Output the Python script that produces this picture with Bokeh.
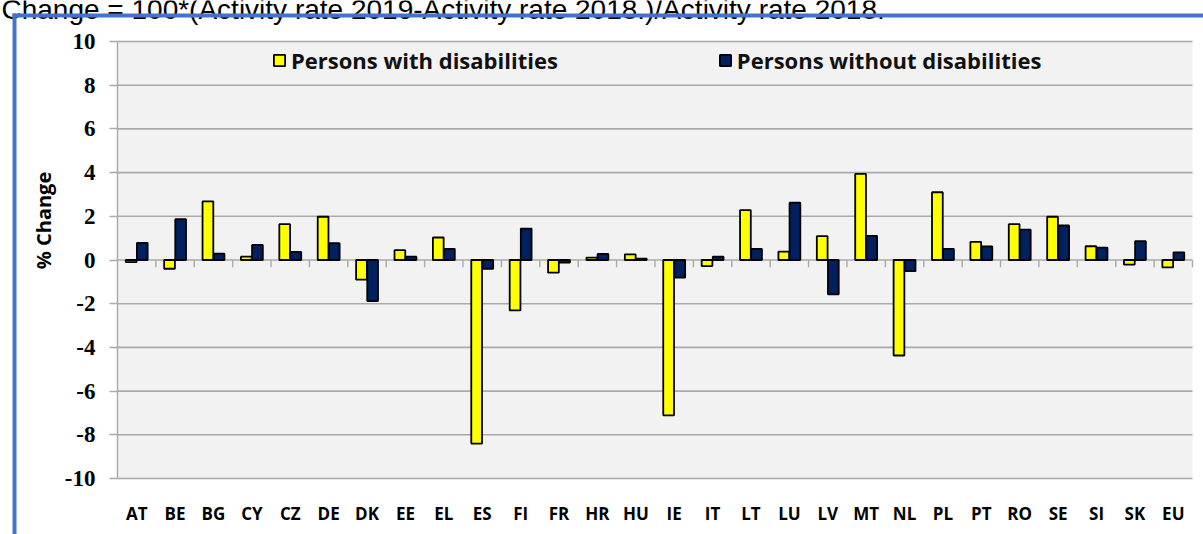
from math import pi
from bokeh.plotting import figure
from bokeh.models import (Range1d, FixedTicker, Legend, Label, BoxAnnotation,
                          ColumnDataSource)
from bokeh.transform import dodge
from bokeh.embed import file_html
from bokeh.resources import INLINE

# ---------------- data ----------------
countries = ["AT", "BE", "BG", "CY", "CZ", "DE", "DK", "EE", "EL", "ES", "FI", "FR", "HR", "HU",
             "IE", "IT", "LT", "LU", "LV", "MT", "NL", "PL", "PT", "RO", "SE", "SI", "SK", "EU"]
with_disabilities = [-0.10, -0.40, 2.68, 0.15, 1.64, 1.98, -0.90, 0.45, 1.03, -8.40, -2.31, -0.58, 0.11, 0.26,
                     -7.11, -0.28, 2.28, 0.38, 1.09, 3.94, -4.37, 3.10, 0.83, 1.64, 1.98, 0.63, -0.21, -0.34]
without_disabilities = [0.78, 1.87, 0.29, 0.69, 0.37, 0.77, -1.88, 0.15, 0.51, -0.40, 1.44, -0.12, 0.28, 0.06,
                        -0.81, 0.15, 0.51, 2.62, -1.57, 1.10, -0.51, 0.51, 0.62, 1.39, 1.58, 0.57, 0.86, 0.35]
y_ticks = [-10, -8, -6, -4, -2, 0, 2, 4, 6, 8, 10]
series_names = ["Persons with disabilities", "Persons without disabilities"]
title_text = "Change = 100*(Activity rate 2019-Activity rate 2018.)/Activity rate 2018."
y_label = "% Change"

n = len(countries)
centers = [i + 0.5 for i in range(n)]
src = ColumnDataSource(dict(x=centers, a=with_disabilities, b=without_disabilities))

# ---------------- layout (canvas pixels) ----------------
W, H = 1203, 534
PL, PR, PT, PB = 117, 1192, 41, 478      # plot area inside the canvas
CW = (PR - PL) / n                       # px per category
PU = (PB - PT) / (y_ticks[-1] - y_ticks[0])  # px per unit


def X(px):
    return (px - PL) / CW


def Y(py):
    return y_ticks[-1] - (py - PT) / PU


p = figure(width=W, height=H, x_range=Range1d(X(0), X(W)), y_range=Range1d(Y(H), Y(0)),
           output_backend="svg", toolbar_location=None,
           min_border_left=0, min_border_right=0, min_border_top=0, min_border_bottom=0)
p.background_fill_color = "white"
p.border_fill_color = "white"
p.outline_line_color = None
p.xgrid.visible = False
p.ygrid.visible = False

# plot-area background
p.add_layout(BoxAnnotation(left=0, right=n, bottom=y_ticks[0], top=y_ticks[-1],
                           fill_color="#F2F2F2", fill_alpha=1, line_color=None, level="underlay"))

# horizontal gridlines
p.segment(x0=[0] * len(y_ticks), x1=[n] * len(y_ticks), y0=y_ticks, y1=y_ticks,
          line_color="#A9A9A9", line_width=1.6)

# boundary ticks on the zero line
bounds = list(range(1, n + 1))
p.segment(x0=bounds, y0=[0] * n, x1=bounds, y1=[-0.33] * n,
          line_color="#A9A9A9", line_width=1.4)

# y axis (placed at the left edge of the plot area)
ya = p.yaxis[0]
ya.fixed_location = 0
ya.bounds = (y_ticks[0], y_ticks[-1])
ya.ticker = FixedTicker(ticks=y_ticks)
ya.major_label_overrides = {t: str(t) for t in y_ticks}
ya.axis_line_color = "#A9A9A9"
ya.axis_line_width = 1.4
ya.major_tick_line_color = "#A9A9A9"
ya.major_tick_line_width = 1.4
ya.major_tick_out = 8
ya.major_tick_in = 0
ya.minor_tick_line_color = None
ya.major_label_standoff = 14
ya.major_label_text_font = "Liberation Serif"
ya.major_label_text_font_style = "bold"
ya.major_label_text_font_size = "23px"
ya.major_label_text_color = "black"

# x axis (category labels below the plot area)
xa = p.xaxis[0]
xa.fixed_location = y_ticks[0]
xa.bounds = (0, n)
xa.ticker = FixedTicker(ticks=centers)
xa.major_label_overrides = {c: name for c, name in zip(centers, countries)}
xa.axis_line_color = None
xa.major_tick_line_color = None
xa.minor_tick_line_color = None
xa.major_label_standoff = 17
xa.major_label_text_font = "Open Sans"
xa.major_label_text_font_style = "bold"
xa.major_label_text_font_size = "17px"
xa.major_label_text_color = "black"

r1 = p.vbar(x=dodge("x", -0.145), top="a", bottom=0, width=0.28, source=src,
            fill_color="#FFFF00", line_color="black", line_width=1.8)
r2 = p.vbar(x=dodge("x", 0.145), top="b", bottom=0, width=0.28, source=src,
            fill_color="#002060", line_color="black", line_width=1.8)

legend = Legend(items=[(series_names[0], [r1]), (series_names[1], [r2])],
                orientation="horizontal", location=(272, H - 75),
                label_text_font="Open Sans", label_text_font_style="bold",
                label_text_font_size="22px", label_text_color="#111111",
                glyph_width=14, glyph_height=14, label_standoff=5, spacing=160,
                background_fill_alpha=0, border_line_alpha=0, margin=0, padding=0)
p.add_layout(legend)

# y axis title
p.add_layout(Label(x=X(43), y=Y(220), text=y_label, angle=pi / 2,
                   text_align="center", text_baseline="middle", text_font="Open Sans",
                   text_font_style="bold", text_font_size="20px", text_color="black"))

# caption at the top (its upper part lies above the picture)
p.add_layout(Label(x=X(1), y=Y(9), text=title_text,
                   text_align="left", text_baseline="alphabetic", text_font="Liberation Sans",
                   text_font_size="28px", text_color="black"))

# blue frame (left and top edges)
p.add_layout(BoxAnnotation(left=X(12), right=X(16), bottom=Y(H), top=Y(13),
                           fill_color="#4472C4", fill_alpha=1, line_color=None))
p.add_layout(BoxAnnotation(left=X(12), right=X(W), bottom=Y(17), top=Y(13),
                           fill_color="#4472C4", fill_alpha=1, line_color=None))

open("out.html", "w").write(file_html(p, INLINE))
